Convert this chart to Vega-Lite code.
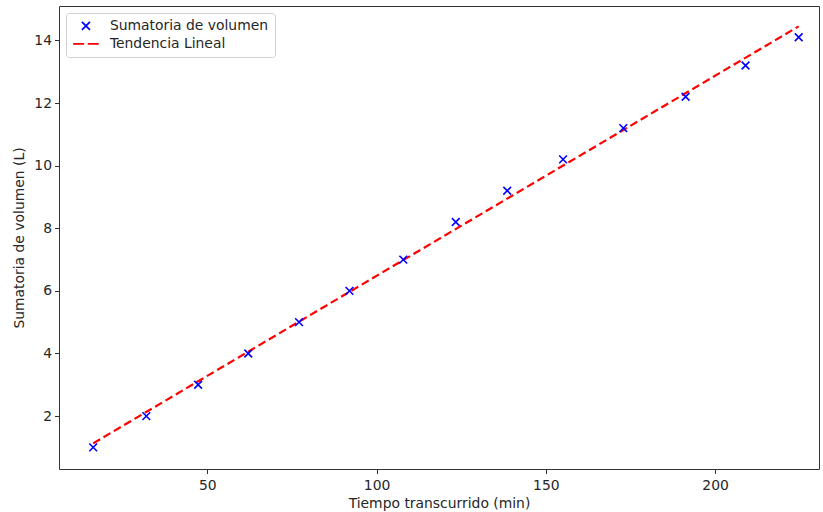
{
  "$schema": "https://vega.github.io/schema/vega-lite/v6.json",
  "autosize": "none",
  "width": 760,
  "height": 463,
  "padding": {"left": 59, "top": 6, "right": 4, "bottom": 43},
  "background": "white",
  "config": {
    "font": "DejaVu Sans",
    "view": {"stroke": "#333", "strokeWidth": 1},
    "axis": {
      "grid": false,
      "domain": false,
      "tickColor": "#333",
      "tickSize": 4.5,
      "tickWidth": 1,
      "labelFont": "DejaVu Sans",
      "labelFontSize": 13.9,
      "labelColor": "#262626",
      "labelPadding": 3,
      "titleFont": "DejaVu Sans",
      "titleFontSize": 13.9,
      "titleFontWeight": "normal",
      "titleColor": "#262626"
    }
  },
  "datasets": {
    "puntos": [
      {"tiempo": 16.3, "volumen": 1.0, "serie": "Sumatoria de volumen"},
      {"tiempo": 32.0, "volumen": 2.0, "serie": "Sumatoria de volumen"},
      {"tiempo": 47.3, "volumen": 3.0, "serie": "Sumatoria de volumen"},
      {"tiempo": 62.1, "volumen": 4.0, "serie": "Sumatoria de volumen"},
      {"tiempo": 77.1, "volumen": 5.0, "serie": "Sumatoria de volumen"},
      {"tiempo": 92.0, "volumen": 6.0, "serie": "Sumatoria de volumen"},
      {"tiempo": 107.9, "volumen": 7.0, "serie": "Sumatoria de volumen"},
      {"tiempo": 123.4, "volumen": 8.2, "serie": "Sumatoria de volumen"},
      {"tiempo": 138.6, "volumen": 9.2, "serie": "Sumatoria de volumen"},
      {"tiempo": 155.1, "volumen": 10.2, "serie": "Sumatoria de volumen"},
      {"tiempo": 172.9, "volumen": 11.2, "serie": "Sumatoria de volumen"},
      {"tiempo": 191.3, "volumen": 12.2, "serie": "Sumatoria de volumen"},
      {"tiempo": 209.0, "volumen": 13.2, "serie": "Sumatoria de volumen"},
      {"tiempo": 224.7, "volumen": 14.1, "serie": "Sumatoria de volumen"}
    ],
    "tendencia": [
      {"tiempo": 16.3, "volumen": 1.13},
      {"tiempo": 224.7, "volumen": 14.45}
    ]
  },
  "layer": [
    {
      "data": {"name": "tendencia"},
      "mark": {"type": "line", "color": "red", "strokeWidth": 2.2, "strokeDash": [8, 4], "clip": true},
      "encoding": {
        "x": {"field": "tiempo", "type": "quantitative"},
        "y": {"field": "volumen", "type": "quantitative"}
      }
    },
    {
      "data": {"name": "puntos"},
      "mark": {"type": "point", "filled": false, "size": 60, "strokeWidth": 1.6, "opacity": 1},
      "encoding": {
        "x": {
          "field": "tiempo", "type": "quantitative",
          "scale": {"domain": [6.2, 230.7], "nice": false, "zero": false},
          "axis": {"values": [50, 100, 150, 200], "title": "Tiempo transcurrido (min)", "labelPadding": 5, "titlePadding": 4}
        },
        "y": {
          "field": "volumen", "type": "quantitative",
          "scale": {"domain": [0.31, 15.1], "nice": false, "zero": false},
          "axis": {"values": [2, 4, 6, 8, 10, 12, 14], "title": "Sumatoria de volumen (L)", "titlePadding": 7}
        },
        "shape": {
          "field": "serie", "type": "nominal",
          "scale": {"domain": ["Sumatoria de volumen", "Tendencia Lineal"], "range": ["M-1,-1L1,1M-1,1L1,-1", "M-3.2,0L-0.45,0M0.45,0L3.2,0"]},
          "legend": null
        },
        "color": {
          "field": "serie", "type": "nominal",
          "scale": {"domain": ["Sumatoria de volumen", "Tendencia Lineal"], "range": ["blue", "red"]},
          "legend": {
            "title": null,
            "orient": "top-left",
            "offset": 7,
            "padding": 6,
            "symbolSize": 64,
            "symbolStrokeWidth": 1.8,
            "symbolOffset": 7,
            "labelOffset": 17,
            "rowPadding": 2,
            "labelFont": "DejaVu Sans",
            "labelFontSize": 13.9,
            "labelColor": "#262626",
            "strokeColor": "#d0d0d0",
            "fillColor": "rgba(255,255,255,0.85)",
            "cornerRadius": 3,
            "labelLimit": 300,
            "encode": {
              "symbols": {
                "update": {
                  "fill": {"value": "transparent"},
                  "opacity": {"value": 1}
                }
              }
            }
          }
        }
      }
    }
  ]
}
